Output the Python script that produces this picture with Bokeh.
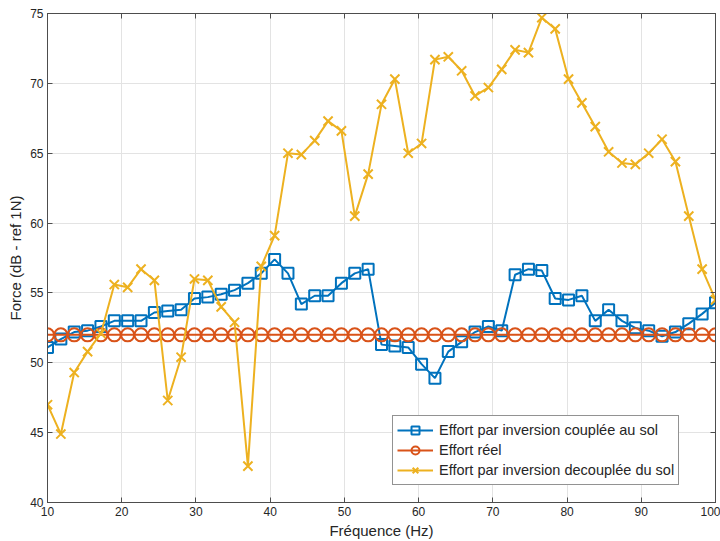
from bokeh.plotting import figure
from bokeh.models import LinearAxis, FixedTicker, Range1d, Legend, LegendItem
from bokeh.embed import file_html
from bokeh.resources import INLINE

freq = [10.0, 11.8, 13.6, 15.4, 17.2, 19.0, 20.8, 22.6, 24.4, 26.2, 28.0, 29.8, 31.6,
        33.4, 35.2, 37.0, 38.8, 40.6, 42.4, 44.2, 46.0, 47.8, 49.6, 51.4, 53.2, 55.0,
        56.8, 58.6, 60.4, 62.2, 64.0, 65.8, 67.6, 69.4, 71.2, 73.0, 74.8, 76.6, 78.4,
        80.2, 82.0, 83.8, 85.6, 87.4, 89.2, 91.0, 92.8, 94.6, 96.4, 98.2, 100.0]

effort_couple = [51.1, 51.7, 52.2, 52.3, 52.6, 53.0, 53.0, 53.0, 53.6, 53.7, 53.8, 54.6, 54.7,
                 54.9, 55.2, 55.7, 56.4, 57.4, 56.4, 54.2, 54.8, 54.8, 55.7, 56.4, 56.7, 51.3,
                 51.2, 51.1, 49.9, 48.9, 50.8, 51.5, 52.2, 52.6, 52.3, 56.3, 56.7, 56.6, 54.6,
                 54.5, 54.8, 53.0, 53.8, 53.0, 52.5, 52.3, 51.9, 52.2, 52.8, 53.5, 54.3]

effort_reel = [52.0, 52.0, 52.0, 52.0, 52.0, 52.0, 52.0, 52.0, 52.0, 52.0, 52.0, 52.0, 52.0,
               52.0, 52.0, 52.0, 52.0, 52.0, 52.0, 52.0, 52.0, 52.0, 52.0, 52.0, 52.0, 52.0,
               52.0, 52.0, 52.0, 52.0, 52.0, 52.0, 52.0, 52.0, 52.0, 52.0, 52.0, 52.0, 52.0,
               52.0, 52.0, 52.0, 52.0, 52.0, 52.0, 52.0, 52.0, 52.0, 52.0, 52.0, 52.0]

effort_decouple = [47.0, 44.9, 49.3, 50.8, 52.1, 55.6, 55.4, 56.7, 55.9, 47.3, 50.4, 56.0, 55.9,
                   54.0, 52.9, 42.6, 56.9, 59.1, 65.0, 64.9, 65.9, 67.3, 66.6, 60.5, 63.5, 68.5,
                   70.3, 65.0, 65.7, 71.7, 71.9, 70.9, 69.1, 69.7, 71.0, 72.4, 72.2, 74.7, 73.9,
                   70.3, 68.6, 66.9, 65.1, 64.3, 64.2, 65.0, 66.0, 64.4, 60.5, 56.7, 54.5]

x_ticks = [10, 20, 30, 40, 50, 60, 70, 80, 90, 100]
y_ticks = [40, 45, 50, 55, 60, 65, 70, 75]

labels = ["Effort par inversion couplée au sol", "Effort réel",
          "Effort par inversion decouplée du sol"]
colors = ["#0072BD", "#D95319", "#EDB120"]

FONT = "Liberation Sans"
AX = "#4d4d4d"
TXT = "#262626"

p = figure(width=720, height=541, output_backend="svg", toolbar_location=None,
           x_range=Range1d(10, 100), y_range=Range1d(40, 75),
           min_border_left=47, min_border_right=5, min_border_top=13, min_border_bottom=39,
           background_fill_color="white", border_fill_color="white")

p.outline_line_color = AX
p.outline_line_width = 1

for ax in (p.xaxis[0], p.yaxis[0]):
    ax.axis_line_color = AX
    ax.major_tick_line_color = AX
    ax.major_tick_in = 5
    ax.major_tick_out = 0
    ax.minor_tick_line_color = None
    ax.major_label_text_font = FONT
    ax.major_label_text_font_size = "12px"
    ax.major_label_text_color = TXT
    ax.axis_label_text_font = FONT
    ax.axis_label_text_font_size = "15px"
    ax.axis_label_text_font_style = "normal"
    ax.axis_label_text_color = TXT

p.xaxis[0].ticker = FixedTicker(ticks=x_ticks)
p.yaxis[0].ticker = FixedTicker(ticks=y_ticks)
p.xaxis[0].axis_label = "Fréquence (Hz)"
p.yaxis[0].axis_label = "Force (dB - ref 1N)"
p.xaxis[0].major_label_standoff = 4
p.xaxis[0].axis_label_standoff = 3
p.yaxis[0].major_label_standoff = 4
p.yaxis[0].axis_label_standoff = 3

for loc, tk in (("above", x_ticks), ("right", y_ticks)):
    a = LinearAxis(ticker=FixedTicker(ticks=tk), axis_line_color=AX,
                   major_tick_line_color=AX, major_tick_in=5, major_tick_out=0,
                   minor_tick_line_color=None, major_label_text_font_size="0px",
                   major_label_standoff=0, major_label_text_color=None)
    p.add_layout(a, loc)

p.xgrid.ticker = FixedTicker(ticks=x_ticks)
p.ygrid.ticker = FixedTicker(ticks=y_ticks)
p.xgrid.grid_line_color = "#e3e3e3"
p.ygrid.grid_line_color = "#e3e3e3"

l1 = p.line(freq, effort_couple, line_color=colors[0], line_width=2)
m1 = p.scatter(freq, effort_couple, marker="square", size=11, line_color=colors[0],
               line_width=2, fill_color=None)
l2 = p.line(freq, effort_reel, line_color=colors[1], line_width=2)
m2 = p.scatter(freq, effort_reel, marker="circle", size=13, line_color=colors[1],
               line_width=2, fill_color=None)
l3 = p.line(freq, effort_decouple, line_color=colors[2], line_width=2)
m3 = p.scatter(freq, effort_decouple, marker="x", size=13, line_color=colors[2],
               line_width=2)

legend = Legend(items=[LegendItem(label=labels[0], renderers=[l1, m1]),
                       LegendItem(label=labels[1], renderers=[l2, m2]),
                       LegendItem(label=labels[2], renderers=[l3, m3])],
                location=(345, 17))
legend.border_line_color = TXT
legend.border_line_width = 1
legend.background_fill_color = "white"
legend.background_fill_alpha = 1
legend.padding = 4
legend.spacing = 0
legend.margin = 0
legend.glyph_width = 36
legend.glyph_height = 20
legend.label_height = 20
legend.label_standoff = 6
legend.label_text_font = FONT
legend.label_text_font_size = "14.5px"
legend.label_text_color = TXT
p.add_layout(legend, "center")

open("out.html", "w").write(file_html(p, INLINE))
